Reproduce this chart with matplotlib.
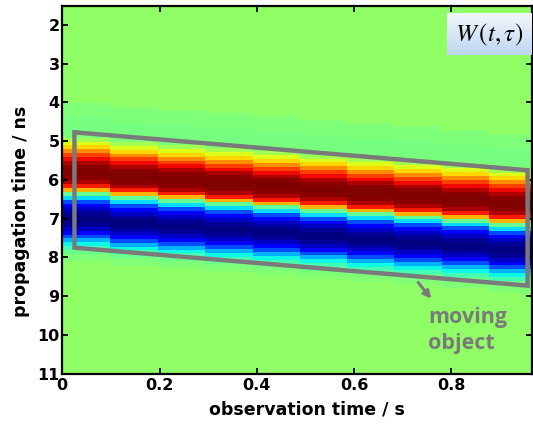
import numpy as np
import matplotlib
matplotlib.use("Agg")
import matplotlib.pyplot as plt
from matplotlib.patches import Polygon

# ---- data ----
# observation-time column edges (s)
obs_edges = [0.0, 0.098, 0.197, 0.294, 0.392, 0.489, 0.586, 0.682, 0.781, 0.878, 0.975]
# propagation time (ns) of the positive peak in each column
peak_tau = [5.81, 5.92, 6.00, 6.08, 6.16, 6.25, 6.34, 6.42, 6.50, 6.61]
# pulse profile (normalised colour value) vs. offset from the peak (ns), 0.1 ns cells
profile_offset_edges = [-1.8 + 0.1 * k for k in range(42)]
profile_value = [0.505, 0.50, 0.50, 0.50, 0.495, 0.495, 0.495, 0.495, 0.50, 0.55,
                 0.62, 0.68, 0.76, 0.84, 0.90, 0.96, 0.99, 1.00, 1.00, 0.99,
                 0.96, 0.88, 0.72, 0.47, 0.34, 0.20, 0.12, 0.06, 0.02, 0.00,
                 0.00, 0.02, 0.06, 0.12, 0.20, 0.30, 0.37, 0.43, 0.48, 0.50,
                 0.51]
background_value = 0.525

# moving-object outline (s, ns)
box_t = [0.025, 0.957, 0.957, 0.025]
box_tau = [4.77, 5.75, 8.73, 7.75]

x_ticks = [0, 0.2, 0.4, 0.6, 0.8]
x_ticklabels = ["0", "0.2", "0.4", "0.6", "0.8"]
y_ticks = [2, 3, 4, 5, 6, 7, 8, 9, 10, 11]

cmap = plt.get_cmap("jet")
gray = "#7a7a7a"
plt.rcParams["mathtext.fontset"] = "stix"

fig = plt.figure(figsize=(5.33, 4.25), dpi=100)
ax = fig.add_axes([62.3 / 533, 1 - 373.5 / 425, (531.5 - 62.3) / 533, (373.5 - 5.7) / 425])
ax.set_facecolor(cmap(background_value))

prof = np.array(profile_value)[:, None]
d_edges = np.array(profile_offset_edges)
for i, tau0 in enumerate(peak_tau):
    ax.pcolormesh([obs_edges[i], obs_edges[i + 1]], d_edges + tau0, prof,
                  cmap=cmap, vmin=0, vmax=1, shading="flat",
                  edgecolors="none", linewidth=0, antialiased=False)

ax.add_patch(Polygon(list(zip(box_t, box_tau)), closed=True, fill=False,
                     edgecolor=gray, linewidth=3.2, joinstyle="miter", zorder=5))

ax.annotate("", xy=(0.759, 9.07), xytext=(0.732, 8.65),
            arrowprops=dict(arrowstyle="-|>", color=gray, lw=2.2, mutation_scale=11,
                            shrinkA=0, shrinkB=0), zorder=6)
ax.text(0.752, 9.88, "moving\nobject", ha="left", va="center", color=gray,
        fontsize=15.5, fontweight="bold", family="Open Sans", linespacing=1.3, zorder=6)

ax.set_xlim(0, 0.965)
ax.set_ylim(11, 1.5)
ax.set_xticks(x_ticks)
ax.set_xticklabels(x_ticklabels)
ax.set_yticks(y_ticks)
ax.tick_params(direction="in", length=4, width=1.3, top=True, right=True,
               labelsize=11.5, pad=3)
ax.tick_params(axis="y", pad=2)
for lab in ax.get_xticklabels() + ax.get_yticklabels():
    lab.set_fontweight("bold")
for s in ax.spines.values():
    s.set_linewidth(1.6)

fig.text(21 / 533, 1 - 211 / 425, "propagation time / ns", rotation=90, ha="center",
         va="center", fontsize=12.5, fontweight="bold")
fig.text(307 / 533, 1 - 410 / 425, "observation time / s", ha="center", va="center",
         fontsize=12.5, fontweight="bold")

# W(t,tau) label box with gradient
bx0, bx1 = (447 - 62.3) / 469.2, 1.0
by0, by1 = (373.5 - 55) / 367.8, (373.5 - 13) / 367.8
grad = np.linspace(0, 1, 64)[:, None]
top_c = np.array([0.95, 0.97, 0.99])
bot_c = np.array([0.74, 0.84, 0.94])
img = top_c[None, None, :] * (1 - grad[..., None]) + bot_c[None, None, :] * grad[..., None]
ax.imshow(img, extent=(bx0, bx1, by0, by1), transform=ax.transAxes, aspect="auto",
          origin="upper", zorder=7)
ax.text((bx0 + bx1) / 2, (by0 + by1) / 2 - 0.003, r"$W\,\left(t,\tau\right)$",
        transform=ax.transAxes, ha="center", va="center", fontsize=18, zorder=8)
ax.set_xlim(0, 0.965)
ax.set_ylim(11, 1.5)

fig.savefig("out.png", dpi=100)
